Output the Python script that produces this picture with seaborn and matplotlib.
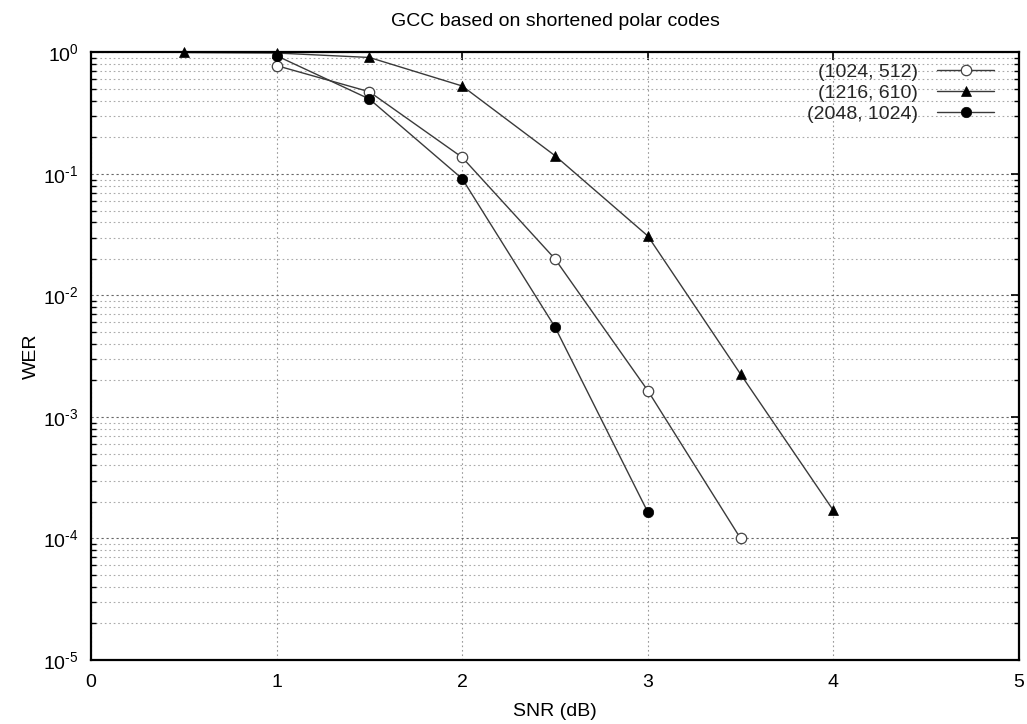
import numpy as np
import pandas as pd
import matplotlib
matplotlib.use("Agg")
import matplotlib.pyplot as plt
import matplotlib.ticker as mticker
import seaborn as sns

# Word error rate vs SNR for three shortened polar code constructions
snr_1024 = [1.0, 1.5, 2.0, 2.5, 3.0, 3.5]
wer_1024 = [0.78, 0.475, 0.137, 0.020, 0.00165, 1.0e-4]

snr_1216 = [0.5, 1.0, 1.5, 2.0, 2.5, 3.0, 3.5, 4.0]
wer_1216 = [1.0, 0.99, 0.91, 0.53, 0.1415, 0.0309, 0.00225, 1.7e-4]

snr_2048 = [1.0, 1.5, 2.0, 2.5, 3.0]
wer_2048 = [0.94, 0.414, 0.0915, 0.0055, 1.65e-4]

labels = ["(1024, 512)", "(1216, 610)", "(2048, 1024)"]
title = "GCC based on shortened polar codes"
xlabel = "SNR (dB)"
ylabel = "WER"

sns.set_theme(style="white")
plt.rcParams["font.family"] = ["Liberation Sans", "DejaVu Sans"]
plt.rcParams["mathtext.fontset"] = "custom"
plt.rcParams["mathtext.rm"] = "Liberation Sans"
plt.rcParams["mathtext.it"] = "Liberation Sans:italic"

FS = 14

fig = plt.figure(figsize=(10.27, 7.24), dpi=100)
ax = fig.add_axes([0.0886, 0.0884, 0.9036, 0.8391])

frames = [
    pd.DataFrame({"snr": snr_1024, "wer": wer_1024}),
    pd.DataFrame({"snr": snr_1216, "wer": wer_1216}),
    pd.DataFrame({"snr": snr_2048, "wer": wer_2048}),
]
styles = [
    dict(marker="o", markersize=7.5, markerfacecolor="white",
         markeredgecolor="#444444", markeredgewidth=0.9),
    dict(marker="^", markersize=7.5, markerfacecolor="black",
         markeredgecolor="black", markeredgewidth=0.5),
    dict(marker="o", markersize=7.5, markerfacecolor="black",
         markeredgecolor="black", markeredgewidth=0.5),
]
for df, lab, st in zip(frames, labels, styles):
    sns.lineplot(data=df, x="snr", y="wer", ax=ax, label=lab,
                 color="#3a3a3a", linewidth=1.0, clip_on=False, zorder=3, **st)

ax.set_yscale("log")
ax.set_xlim(0, 5)
ax.set_ylim(1e-5, 1)
ax.xaxis.set_major_locator(mticker.MultipleLocator(1))
ax.xaxis.set_major_formatter(mticker.FormatStrFormatter("%d"))
ax.yaxis.set_major_locator(mticker.LogLocator(base=10, numticks=10))
ax.yaxis.set_minor_locator(mticker.LogLocator(base=10, subs=np.arange(2, 10), numticks=20))
ax.yaxis.set_minor_formatter(mticker.NullFormatter())


def decade_label(v, pos):
    e = int(round(np.log10(v)))
    return r"$10^{\text{%d}}$" % e


ax.yaxis.set_major_formatter(mticker.FuncFormatter(decade_label))

# Grid: dotted at every x tick and at all major/minor decades on y
ax.grid(True, which="major", axis="x", color="#999999", linestyle=(0, (1.5, 2.5)), linewidth=0.8)
ax.grid(True, which="major", axis="y", color="#666666", linestyle=(0, (2, 2.5)), linewidth=0.8)
ax.grid(True, which="minor", axis="y", color="#aaaaaa", linestyle=(0, (1.5, 2.5)), linewidth=0.8)
ax.set_axisbelow(True)

for sp in ax.spines.values():
    sp.set_color("black")
    sp.set_linewidth(1.6)
    sp.set_zorder(4)

ax.tick_params(which="major", direction="in", length=6, width=1.2, color="black",
               top=True, right=True, labelsize=FS, labelcolor="black")
ax.tick_params(axis="x", which="major", pad=10)
ax.tick_params(axis="y", which="major", pad=9)
ax.tick_params(axis="y", which="minor", direction="in", length=3.5, width=1.0,
               color="black", left=True, right=True)
ax.tick_params(axis="x", which="minor", bottom=False, top=False)

ax.set_title(title, fontsize=FS, pad=19, color="black")
ax.set_xlabel(xlabel, fontsize=FS, labelpad=9, color="black")
ax.set_ylabel(ylabel, fontsize=FS, labelpad=2, color="black")

leg = ax.legend(loc="upper right", bbox_to_anchor=(1.0, 1.024),
                frameon=False, markerfirst=False, fontsize=FS,
                handlelength=2.9, handletextpad=1.0, labelspacing=0.17,
                borderaxespad=0.9)
for t in leg.get_texts():
    t.set_ha("right")
leg._legend_box.align = "right"

fig.savefig("out.png", dpi=100, facecolor="white")
